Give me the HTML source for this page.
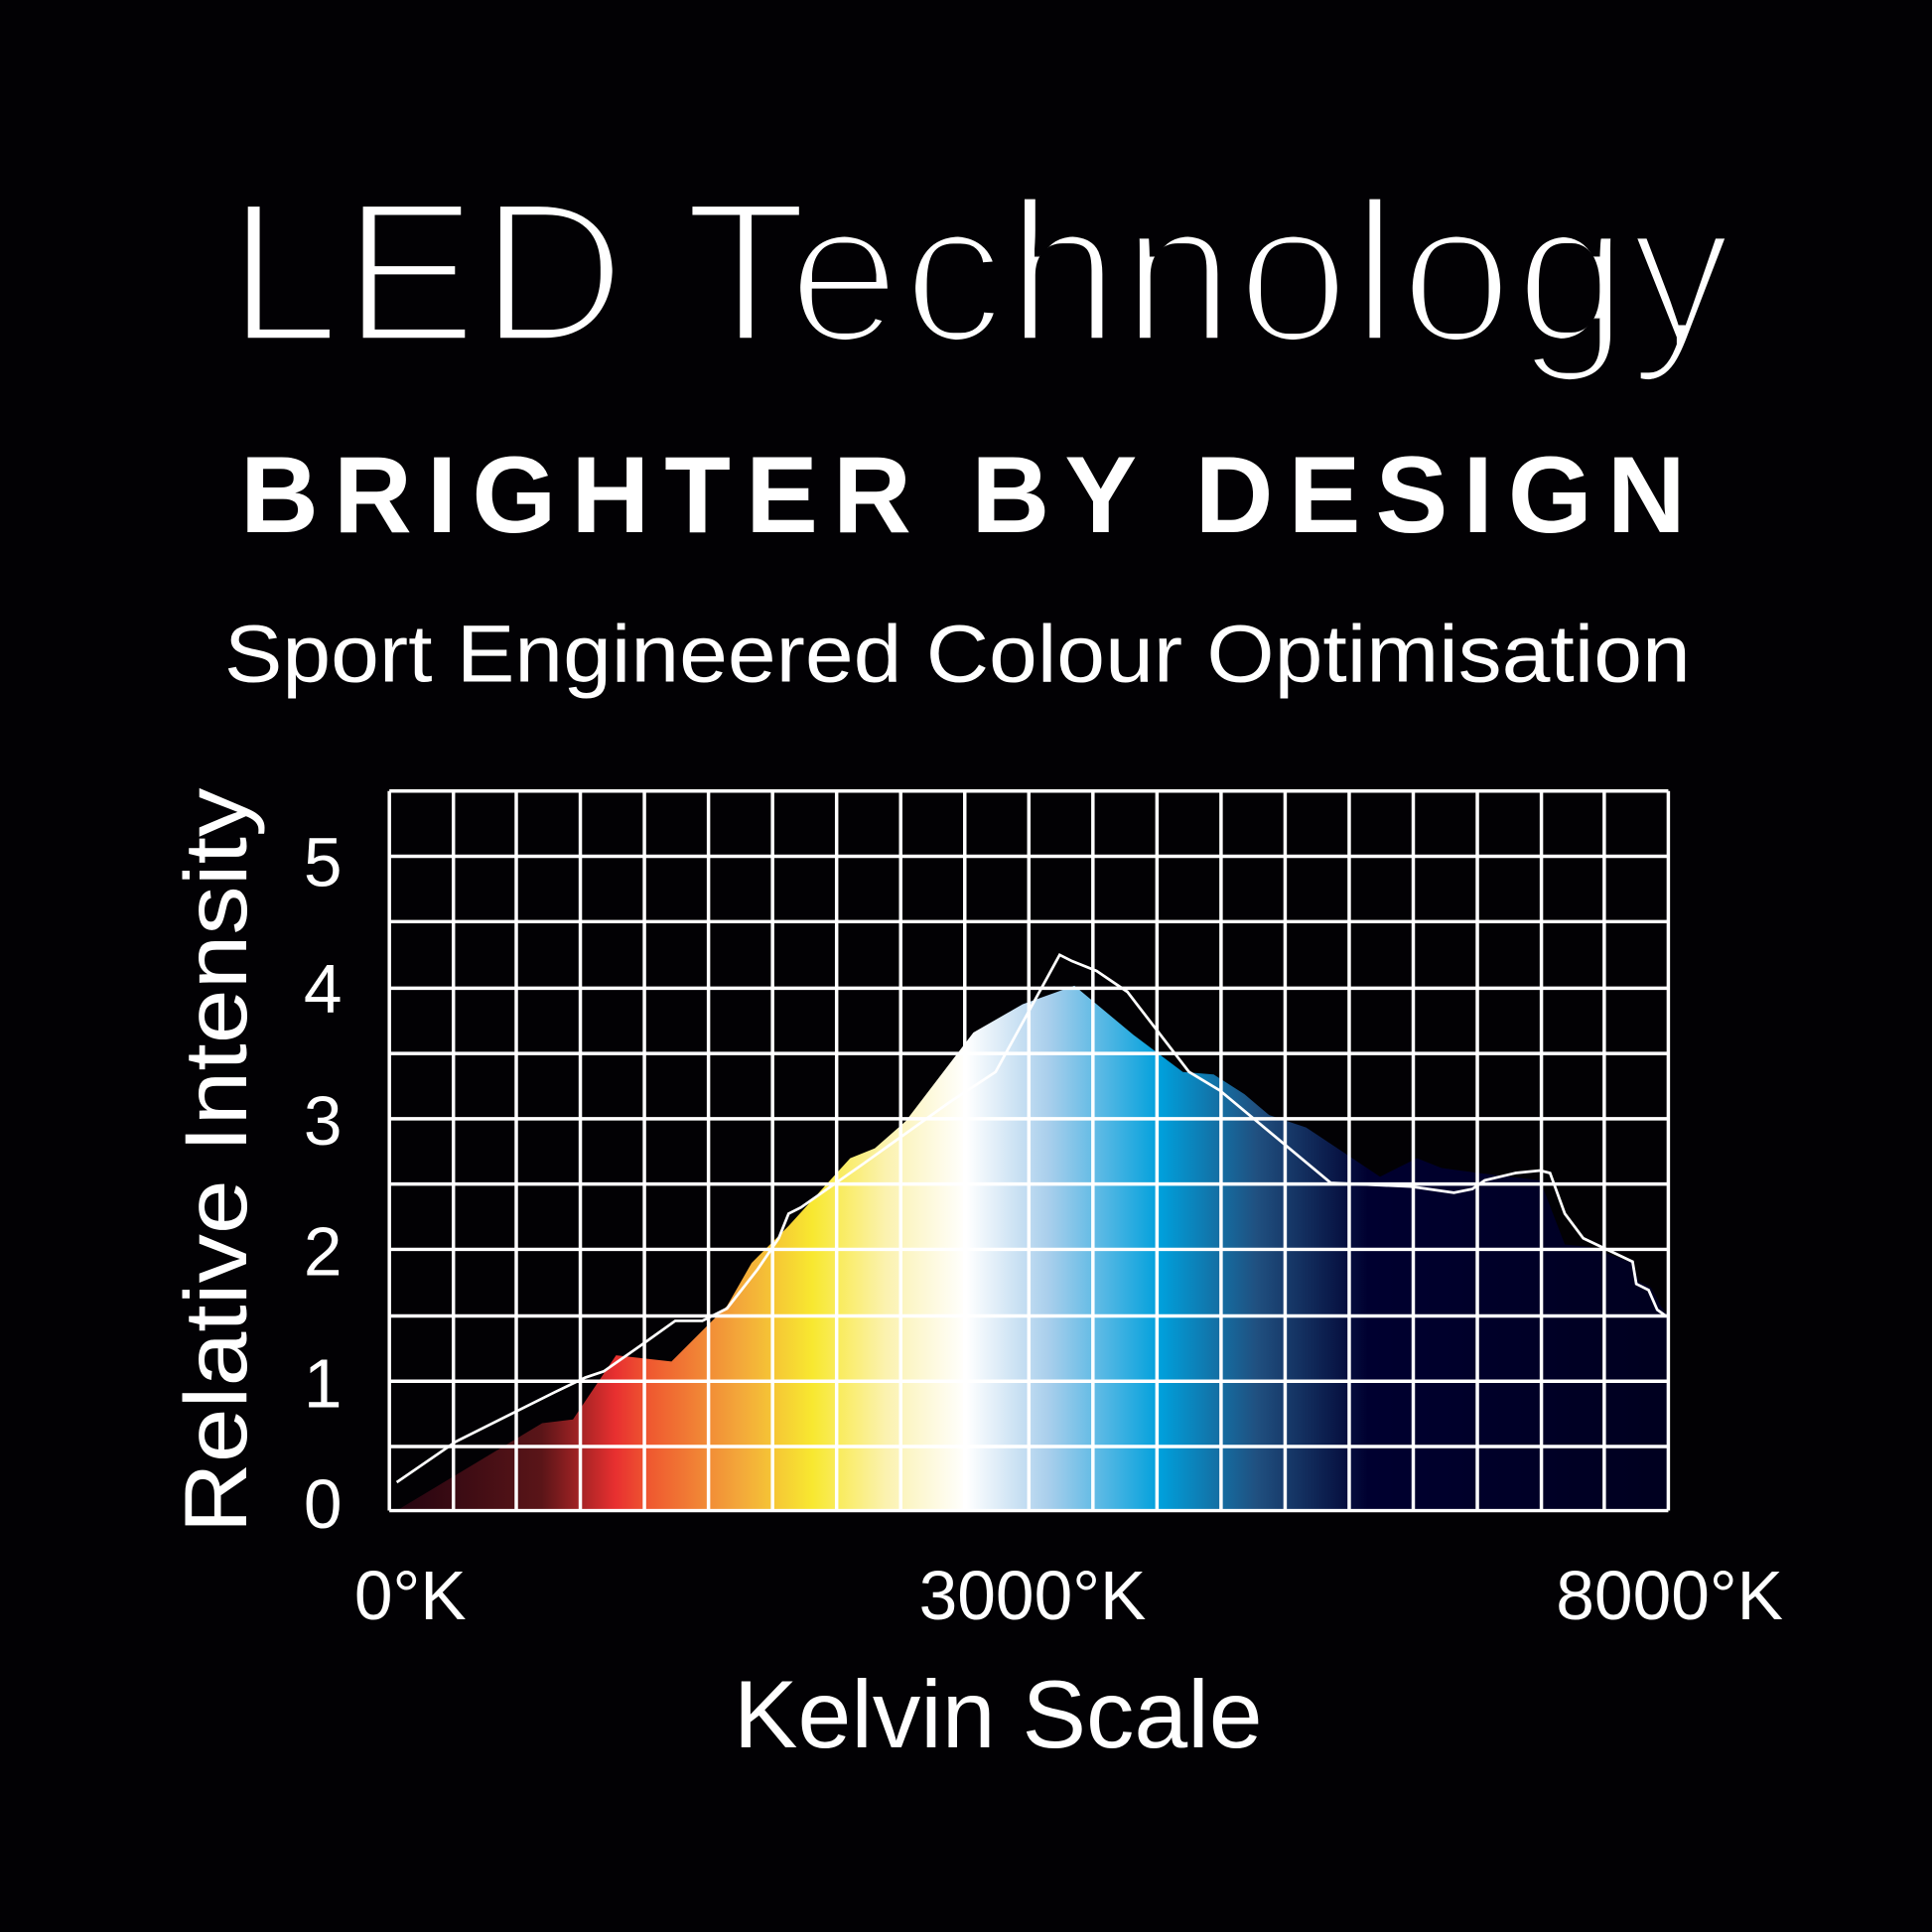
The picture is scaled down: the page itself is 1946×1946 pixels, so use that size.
<!DOCTYPE html>
<html><head><meta charset="utf-8"><style>html,body{margin:0;padding:0;background:#020104}svg{display:block}</style></head>
<body>
<svg width="1946" height="1946" viewBox="0 0 1568 1568" xmlns="http://www.w3.org/2000/svg">
<rect width="1568" height="1568" fill="#020104"/>
<defs>
<filter id="thin" x="-5%" y="-5%" width="110%" height="110%"><feMorphology operator="erode" radius="3"/></filter>
<linearGradient id="g" gradientUnits="userSpaceOnUse" x1="322" y1="0" x2="1354" y2="0">
<stop offset="0" stop-color="#250410"/>
<stop offset="0.114" stop-color="#5a1518"/>
<stop offset="0.172" stop-color="#e83030"/>
<stop offset="0.2" stop-color="#ef5a30"/>
<stop offset="0.27" stop-color="#f3a83a"/>
<stop offset="0.327" stop-color="#f8e830"/>
<stop offset="0.385" stop-color="#fbf2b0"/>
<stop offset="0.448" stop-color="#ffffff"/>
<stop offset="0.512" stop-color="#aacfec"/>
<stop offset="0.6" stop-color="#00a0dc"/>
<stop offset="0.676" stop-color="#205080"/>
<stop offset="0.764" stop-color="#000030"/>
<stop offset="1" stop-color="#00001f"/>
</linearGradient>
</defs>
<g font-family="Liberation Sans, sans-serif" fill="#fff">
<g filter="url(#thin)"><text x="795" y="277" font-size="163" text-anchor="middle" textLength="1220" lengthAdjust="spacing">LED Technology</text></g>
<text x="195" y="432" font-size="88" font-weight="bold" font-family="Liberation Sans Narrow, Liberation Sans, sans-serif" textLength="1173" lengthAdjust="spacing">BRIGHTER BY DESIGN</text>
<text x="182" y="553" font-size="66" textLength="1190" lengthAdjust="spacingAndGlyphs">Sport Engineered Colour Optimisation</text>
</g>
<path fill="url(#g)" d="M322,1226 L440,1155 L465,1152 L500,1100 L545,1105 L590,1060 L610,1025 L640,995 L690,940 L710,932 L735,910 L790,838 L830,815 L872,800 L920,840 L960,870 L985,872 L1010,888 L1030,905 L1060,915 L1090,935 L1120,955 L1150,940 L1170,948 L1200,952 L1250,958 L1270,1010 L1290,1012 L1325,1025 L1330,1040 L1340,1045 L1348,1060 L1354,1068 L1354,1226 Z"/>
<g stroke="#fff" stroke-width="2.8" fill="none">
<path d="M316,642V1226 M368,642V1226 M419,642V1226 M471,642V1226 M523,642V1226 M575,642V1226 M627,642V1226 M679,642V1226 M731,642V1226 M783,642V1226 M835,642V1226 M887,642V1226 M939,642V1226 M991,642V1226 M1043,642V1226 M1095,642V1226 M1147,642V1226 M1199,642V1226 M1251,642V1226 M1302,642V1226 M1354,642V1226"/>
<path d="M316,642H1354 M316,695H1354 M316,748H1354 M316,802H1354 M316,855H1354 M316,908H1354 M316,961H1354 M316,1014H1354 M316,1068H1354 M316,1121H1354 M316,1174H1354 M316,1226H1354"/>
</g>
<path fill="none" stroke="#fff" stroke-width="2.2" d="M322,1203 L370,1170 L450,1130 L475,1118 L490,1113 L520,1092 L548,1072 L570,1072 L590,1062 L615,1030 L632,1005 L640,985 L650,980 L700,945 L770,895 L808,870 L860,775 L870,780 L890,788 L915,805 L965,870 L990,885 L1080,960 L1145,963 L1180,968 L1195,965 L1205,958 L1230,952 L1250,950 L1258,952 L1270,985 L1285,1005 L1325,1024 L1328,1042 L1338,1047 L1345,1063 L1352,1068"/>
<g font-family="Liberation Sans, sans-serif" fill="#fff" font-size="56" text-anchor="middle">
<text x="262" y="1240">0</text>
<text x="262" y="1142">1</text>
<text x="262" y="1035">2</text>
<text x="262" y="929">3</text>
<text x="262" y="822">4</text>
<text x="262" y="719">5</text>
<text x="333" y="1314">0°K</text>
<text x="838" y="1314">3000°K</text>
<text x="1355" y="1314">8000°K</text>
<text x="810" y="1418" font-size="78">Kelvin Scale</text>
<text transform="translate(200,942) rotate(-90)" font-size="72" textLength="605" lengthAdjust="spacingAndGlyphs">Relative Intensity</text>
</g>
</svg>
</body></html>
